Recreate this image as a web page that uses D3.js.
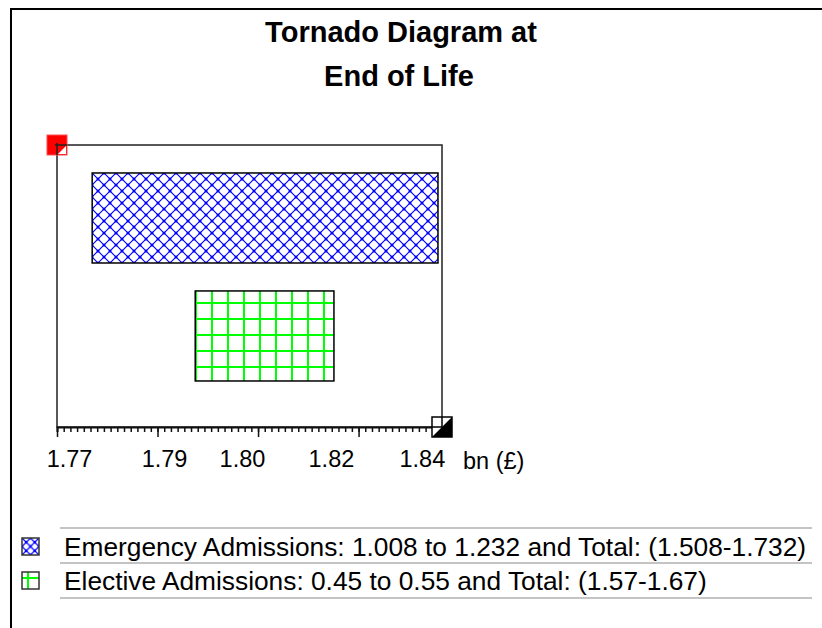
<!DOCTYPE html>
<html>
<head>
<meta charset="utf-8">
<script src="https://cdn.jsdelivr.net/npm/d3@7"></script>
<style>
  body { margin: 0; background: #fff; }
  text { font-family: Arial, "Liberation Sans", sans-serif; fill: #000; }
</style>
</head>
<body>
<svg id="chart"></svg>
<script>
// tornado bars, in axis units (bn £)
var categories = ["Emergency Admissions", "Elective Admissions"];
var barLow = [1.775, 1.7955];
var barHigh = [1.8438, 1.8231];

// legend values
var inputLow = [1.008, 0.45];
var inputHigh = [1.232, 0.55];
var totalLow = [1.508, 1.57];
var totalHigh = [1.732, 1.67];

// axis
var axisDomain = [1.768, 1.8446];
var labelValues = [1.7704, 1.7893, 1.8048, 1.8225, 1.8406];
var majorStep = 0.02;
var minorPerMajor = 15;

var width = 822, height = 628;
var box = {left: 57, top: 145, right: 442, bottom: 427};

var svg = d3.select("#chart")
    .attr("width", width)
    .attr("height", height);

var defs = svg.append("defs");

// blue crosshatch
var cross = defs.append("pattern")
    .attr("id", "cross")
    .attr("patternUnits", "userSpaceOnUse")
    .attr("x", 92).attr("y", 173)
    .attr("width", 12).attr("height", 12);
cross.append("path")
    .attr("d", "M0,0L12,12M12,0L0,12")
    .attr("stroke", "#0000ff").attr("stroke-width", 1.2);
[[0,0],[12,0],[0,12],[12,12],[6,6]].forEach(function(p) {
    cross.append("circle").attr("cx", p[0]).attr("cy", p[1]).attr("r", 1.5).attr("fill", "#0000ff");
});

// green grid
var grid = defs.append("pattern")
    .attr("id", "grid")
    .attr("patternUnits", "userSpaceOnUse")
    .attr("x", 211).attr("y", 302)
    .attr("width", 16).attr("height", 16);
grid.append("path")
    .attr("d", "M1,0V16M0,1H16")
    .attr("stroke", "#00ff00").attr("stroke-width", 2);

var smallCross = defs.append("pattern")
    .attr("id", "smallCross")
    .attr("patternUnits", "userSpaceOnUse")
    .attr("x", 22).attr("y", 538)
    .attr("width", 8.5).attr("height", 8.5);
smallCross.append("path")
    .attr("d", "M0,0L8.5,8.5M8.5,0L0,8.5")
    .attr("stroke", "#0000ff").attr("stroke-width", 1.2);
[[0,0],[8.5,0],[0,8.5],[8.5,8.5],[4.25,4.25]].forEach(function(p) {
    smallCross.append("circle").attr("cx", p[0]).attr("cy", p[1]).attr("r", 1.3).attr("fill", "#0000ff");
});

var patterns = ["url(#cross)", "url(#grid)"];

// outer frame (left and top only)
svg.append("path")
    .attr("d", "M11,628V9H822")
    .attr("fill", "none")
    .attr("stroke", "#000")
    .attr("stroke-width", 2);

// title
var title = svg.append("text")
    .attr("text-anchor", "middle")
    .attr("font-size", "29px")
    .attr("font-weight", "bold");
title.append("tspan").attr("x", 401).attr("y", 42).text("Tornado Diagram at");
title.append("tspan").attr("x", 399).attr("y", 86).text("End of Life");

var x = d3.scaleLinear().domain(axisDomain).range([box.left, box.right]);
var y = d3.scaleBand()
    .domain(categories)
    .range([box.top, box.bottom])
    .paddingInner(0.237)
    .paddingOuter(0.3136)
    .align(0.378);

// plot box
svg.append("rect")
    .attr("x", box.left).attr("y", box.top)
    .attr("width", box.right - box.left)
    .attr("height", box.bottom - box.top)
    .attr("fill", "#fff")
    .attr("stroke", "#222")
    .attr("stroke-width", 1.5);

// bars
svg.selectAll(".bar")
    .data(categories)
    .enter().append("rect")
    .attr("class", "bar")
    .attr("x", function(d, i) { return x(barLow[i]); })
    .attr("y", function(d) { return y(d); })
    .attr("width", function(d, i) { return x(barHigh[i]) - x(barLow[i]); })
    .attr("height", y.bandwidth())
    .attr("fill", function(d, i) { return patterns[i]; })
    .attr("stroke", "#000")
    .attr("stroke-width", 1.5);

// axis: minor and major ticks, then labels
var nMajor = Math.floor((axisDomain[1] - axisDomain[0]) / majorStep + 1e-9);
var minorTicks = d3.range(0, Math.floor((axisDomain[1] - axisDomain[0]) / (majorStep / minorPerMajor)) + 1)
    .map(function(k) { return axisDomain[0] + k * majorStep / minorPerMajor; });
var majorTicks = d3.range(0, nMajor + 1).map(function(k) { return axisDomain[0] + k * majorStep; });

var axisG = svg.append("g").attr("transform", "translate(0," + box.bottom + ")");
axisG.append("g")
    .call(d3.axisBottom(x).tickValues(minorTicks).tickSize(5).tickFormat(""))
    .call(function(g) { g.select(".domain").attr("stroke", "#111").attr("stroke-width", 1.8); })
    .selectAll("line").attr("stroke", "#111").attr("stroke-width", 1.5);
axisG.append("g")
    .call(d3.axisBottom(x).tickValues(majorTicks).tickSize(10).tickFormat(""))
    .call(function(g) { g.select(".domain").remove(); })
    .selectAll("line").attr("stroke", "#111").attr("stroke-width", 1.5);
axisG.append("g")
    .call(d3.axisBottom(x).tickValues(labelValues).tickSize(0).tickPadding(23).tickFormat(d3.format(".2f")))
    .call(function(g) { g.select(".domain").remove(); })
    .selectAll("text")
    .attr("font-size", "23.5px")
    .attr("font-family", "Arial, 'Liberation Sans', sans-serif")
    .attr("fill", "#111");

svg.append("text")
    .attr("x", 463).attr("y", 469)
    .attr("font-size", "23.5px")
    .attr("fill", "#111")
    .text("bn (£)");

// corner markers
var c0 = [x(axisDomain[0]), box.top];
svg.append("rect")
    .attr("x", c0[0] - 10).attr("y", c0[1] - 10)
    .attr("width", 20).attr("height", 20)
    .attr("fill", "#ff0000").attr("stroke", "#ff5050").attr("stroke-width", 1);
svg.append("path")
    .attr("d", "M" + (c0[0] + 1) + "," + (c0[1] + 9) + "L" + (c0[0] + 9) + "," + (c0[1] + 1) + "L" + (c0[0] + 9) + "," + (c0[1] + 9) + "Z")
    .attr("fill", "#fff");
svg.append("path")
    .attr("d", "M" + c0[0] + "," + (c0[1] - 2) + "V" + (c0[1] + 10) + "M" + (c0[0] - 2) + "," + c0[1] + "H" + (c0[0] + 10))
    .attr("stroke", "#222").attr("stroke-width", 1.5);

var c1 = [x(axisDomain[1]), box.bottom];
svg.append("rect")
    .attr("x", c1[0] - 10).attr("y", c1[1] - 10)
    .attr("width", 20).attr("height", 20)
    .attr("fill", "#fff").attr("stroke", "#000").attr("stroke-width", 1.5);
svg.append("path")
    .attr("d", "M" + (c1[0] - 10) + "," + (c1[1] + 10) + "L" + (c1[0] + 10) + "," + (c1[1] - 10) + "L" + (c1[0] + 10) + "," + (c1[1] + 10) + "Z")
    .attr("fill", "#000");
svg.append("path")
    .attr("d", "M" + c1[0] + "," + (c1[1] - 10) + "V" + c1[1] + "M" + (c1[0] - 10) + "," + c1[1] + "H" + c1[0])
    .attr("stroke", "#000").attr("stroke-width", 1.5);

// legend
var legendY = [547, 581];
var seps = [528, 563, 598];
svg.selectAll(".sep")
    .data(seps)
    .enter().append("line")
    .attr("x1", 60).attr("x2", 812)
    .attr("y1", function(d) { return d; }).attr("y2", function(d) { return d; })
    .attr("stroke", "#c4c4c4").attr("stroke-width", 2);

categories.forEach(function(name, i) {
    var ly = legendY[i];
    var icon = svg.append("g");
    if (i === 0) {
        icon.append("rect")
            .attr("x", 22).attr("y", ly - 9)
            .attr("width", 17).attr("height", 17)
            .attr("fill", "url(#smallCross)");
    } else {
        icon.append("rect")
            .attr("x", 22).attr("y", ly - 9)
            .attr("width", 17).attr("height", 17)
            .attr("fill", "#fff");
        icon.append("path")
            .attr("d", "M" + 28 + "," + (ly - 9) + "V" + (ly + 8) + "M" + 22 + "," + (ly - 3) + "H" + 39)
            .attr("stroke", "#00ff00").attr("stroke-width", 2);
    }
    icon.append("rect")
        .attr("x", 22).attr("y", ly - 9)
        .attr("width", 17).attr("height", 17)
        .attr("fill", "none")
        .attr("stroke", "#333").attr("stroke-width", 1.5);

    svg.append("text")
        .attr("x", 64).attr("y", ly + 9)
        .attr("font-size", "26.3px")
        .attr("fill", "#111")
        .text(name + ": " + inputLow[i] + " to " + inputHigh[i] +
              " and Total: (" + totalLow[i] + "-" + totalHigh[i] + ")");
});
</script>
</body>
</html>
